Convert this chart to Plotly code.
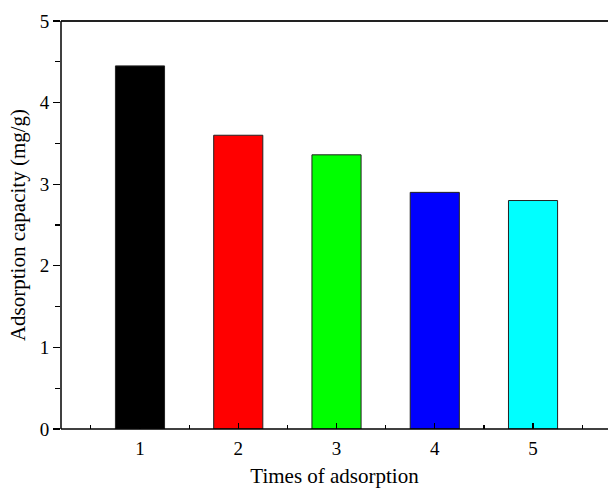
import plotly.graph_objects as go

categories = [1, 2, 3, 4, 5]
capacity = [4.45, 3.60, 3.36, 2.90, 2.80]
bar_colors = ["#000000", "#FF0000", "#00FF00", "#0000FF", "#00FFFF"]
y_ticks = [0, 1, 2, 3, 4, 5]

font_family = "Liberation Serif, Times New Roman, serif"

fig = go.Figure(
    go.Bar(
        x=categories,
        y=capacity,
        width=0.5,
        marker=dict(color=bar_colors, line=dict(color="#222222", width=1)),
    )
)

fig.update_layout(
    template="none",
    width=608,
    height=494,
    margin=dict(l=61, r=0, t=21, b=65),
    paper_bgcolor="white",
    plot_bgcolor="white",
    showlegend=False,
    font=dict(family=font_family, color="black", size=19),
    xaxis=dict(
        range=[0.196, 5.763],
        tickmode="array",
        tickvals=categories,
        ticktext=[str(c) for c in categories],
        ticks="inside",
        ticklen=6,
        tickwidth=1.2,
        tickcolor="black",
        ticklabelstandoff=6,
        minor=dict(tickmode="array", tickvals=[0.5, 1.5, 2.5, 3.5, 4.5, 5.5],
                   ticks="inside", ticklen=4, tickwidth=1.2, tickcolor="black",
                   showgrid=False),
        showline=False,
        showgrid=False,
        zeroline=False,
        tickfont=dict(size=19),
        title=dict(text="Times of adsorption", font=dict(size=21), standoff=10),
    ),
    yaxis=dict(
        range=[0, 5],
        tickmode="array",
        tickvals=y_ticks,
        ticks="outside",
        ticklen=7,
        tickwidth=1.2,
        tickcolor="black",
        minor=dict(tickmode="array", tickvals=[0.5, 1.5, 2.5, 3.5, 4.5],
                   ticks="outside", ticklen=5, tickwidth=1.2, tickcolor="black",
                   showgrid=False),
        showline=False,
        showgrid=False,
        zeroline=False,
        tickfont=dict(size=19),
        title=dict(text="Adsorption capacity (mg/g)", font=dict(size=21), standoff=8),
    ),
    shapes=[
        dict(type="line", xref="paper", yref="paper", x0=0, x1=1.05, y0=1, y1=1,
             line=dict(color="#222222", width=2)),
        dict(type="line", xref="paper", yref="paper", x0=0, x1=1.05, y0=0, y1=0,
             line=dict(color="black", width=1.5)),
        dict(type="line", xref="paper", yref="paper", x0=0, x1=0, y0=0, y1=1,
             line=dict(color="black", width=1.5)),
    ],
)

fig.write_html(
    "out.html",
    config={"displayModeBar": False, "staticPlot": True},
    post_script="document.body.style.margin='0';document.body.style.overflow='hidden';",
)
